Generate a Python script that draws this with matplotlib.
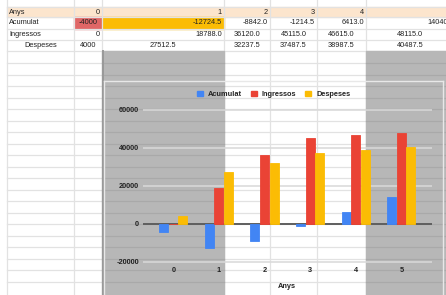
import matplotlib
matplotlib.use("Agg")
import matplotlib.pyplot as plt
from matplotlib.patches import Rectangle, Patch

# data from the sheet
anys = [0, 1, 2, 3, 4, 5]
acumulat = [-4000, -12724.5, -8842.0, -1214.5, 6413.0, 14040.5]
ingressos = [0, 18788.0, 36120.0, 45115.0, 46615.0, 48115.0]
despeses = [4000, 27512.5, 32237.5, 37487.5, 38987.5, 40487.5]

series_names = ["Acumulat", "Ingressos", "Despeses"]
series_colors = ["#4285f4", "#ea4335", "#fbbc04"]
y_ticks = [-20000, 0, 20000, 40000, 60000]

W, H = 446, 295
plt.rcParams['font.family'] = ['Liberation Sans', 'DejaVu Sans']

fig = plt.figure(figsize=(W / 100, H / 100), dpi=100)

# ---- spreadsheet background, in pixel coords ----
bg = fig.add_axes([0, 0, 1, 1])
bg.set_xlim(0, W)
bg.set_ylim(H, 0)
bg.axis('off')

col_edges = [7, 74, 102, 224, 270, 317, 366, 454]
row_lines = [7, 17, 28.5, 40, 51] + [63.3 + 11.5 * k for k in range(20)]
grid_c = '#e2e2e2'

# header row fill
bg.add_patch(Rectangle((7, 7), W, 10, color='#fce5cd', zorder=0))
# coloured cells in Acumulat row
bg.add_patch(Rectangle((74, 17), 28, 11.5, color='#e06666', zorder=0))
bg.add_patch(Rectangle((102, 17), 122, 11.5, color='#fbbc04', zorder=0))

for y in row_lines:
    bg.plot([7, W], [y, y], color=grid_c, lw=0.9, zorder=1)
for x in col_edges:
    bg.plot([x, x], [0, H], color=grid_c, lw=0.9, zorder=1)

# gray blocks under the chart
for x0, x1 in [(102, 224), (366, W)]:
    bg.add_patch(Rectangle((x0, 50.5), x1 - x0, H, color='#b7b7b7', zorder=2))
    for y in row_lines:
        if y > 52:
            bg.plot([x0, x1], [y, y], color='#a9a9a9', lw=0.9, zorder=2.5)
bg.plot([102.5, 102.5], [50.5, H], color='#999999', lw=1.4, zorder=2.5)

# table text
txt = dict(fontsize=5.3, color='#222222', va='center', zorder=3)
labels = ["Anys", "Acumulat", "Ingressos", "Despeses"]
row_y = [12, 22.8, 34.3, 45.7]
for lab, y in zip(labels[:3], row_y[:3]):
    bg.text(9, y, lab, ha='left', **txt)
bg.text(40.5, row_y[3], labels[3], ha='center', **txt)


def fmt(v, i):
    if i == 0:
        return str(int(v))
    return f"{v:.1f}"


# Anys row, right aligned
for i in range(5):
    bg.text(col_edges[i + 2] - 2, row_y[0], str(anys[i]), ha='right', **txt)

# Acumulat row
bg.text((col_edges[1] + col_edges[2]) / 2, row_y[1], fmt(acumulat[0], 0), ha='center', **txt)
for i in range(1, 5):
    bg.text(col_edges[i + 2] - 2, row_y[1], fmt(acumulat[i], i), ha='right', **txt)
bg.text(427, row_y[1], fmt(acumulat[5], 5), ha='left', **txt)

# Ingressos row
bg.text(col_edges[2] - 2, row_y[2], fmt(ingressos[0], 0), ha='right', **txt)
bg.text(col_edges[3] - 2, row_y[2], fmt(ingressos[1], 1), ha='right', **txt)
for i in range(2, 6):
    bg.text((col_edges[i + 1] + col_edges[i + 2]) / 2, row_y[2], fmt(ingressos[i], i), ha='center', **txt)

# Despeses row, centered
for i in range(6):
    bg.text((col_edges[i + 1] + col_edges[i + 2]) / 2, row_y[3], fmt(despeses[i], i), ha='center', **txt)

# chart frame
frame_c = '#e8e8e8'
bg.plot([104, 442.7], [80.5, 80.5], color=frame_c, lw=1, zorder=3)
bg.plot([104, 104], [80.5, H], color=frame_c, lw=1, zorder=3)
bg.plot([442.7, 442.7], [80.5, H], color=frame_c, lw=1, zorder=3)

# ---- the chart itself ----
cx0, cdx = 173.3, 45.6          # px of category 0, px per category
cy0, cdy = 224, 38 / 20000      # px of zero, px per unit
xlim = (-0.675, 5.675)
ylim = (-21000, 61000)
left = cx0 + xlim[0] * cdx
right = cx0 + xlim[1] * cdx
top = cy0 - ylim[1] * cdy
bottom = cy0 - ylim[0] * cdy

ax = fig.add_axes([left / W, 1 - bottom / H, (right - left) / W, (bottom - top) / H])
ax.patch.set_alpha(0)
ax.set_xlim(*xlim)
ax.set_ylim(*ylim)
for s in ax.spines.values():
    s.set_visible(False)

width = 0.2
offsets = [-0.21, 0, 0.21]
for vals, off, c in zip([acumulat, ingressos, despeses], offsets, series_colors):
    ax.bar([a + off for a in anys], vals, width, color=c, edgecolor=c, lw=0.6, zorder=3)

ax.axhline(0, color='#555555', lw=1.3, zorder=2)
ax.set_yticks(y_ticks)
ax.set_yticklabels([str(t) for t in y_ticks])
ax.set_xticks(anys)
ax.set_xticklabels([str(a) for a in anys])
ax.yaxis.grid(True, color='#d9d9d9', lw=1.1, zorder=1)
ax.set_axisbelow(True)
ax.tick_params(length=0, labelsize=5.3, labelcolor='#222222')
ax.tick_params(axis='y', pad=2.5)
ax.tick_params(axis='x', pad=2.2)
for t in ax.get_xticklabels() + ax.get_yticklabels():
    t.set_fontweight('bold')

fig.text(286.7 / W, 1 - 286.7 / H, "Anys", ha='center', va='center',
         fontsize=5.3, fontweight='bold', color='#222222')

handles = [Patch(color=c) for c in series_colors]
fig.legend(handles, series_names, loc='center', bbox_to_anchor=(273.5 / W, 1 - 94.5 / H),
           ncol=3, frameon=False, prop={'size': 5.3, 'weight': 'bold'},
           handlelength=0.8, handleheight=0.8, handletextpad=0.7, columnspacing=1.2,
           labelcolor='#222222')

fig.savefig("out.png", dpi=100)
